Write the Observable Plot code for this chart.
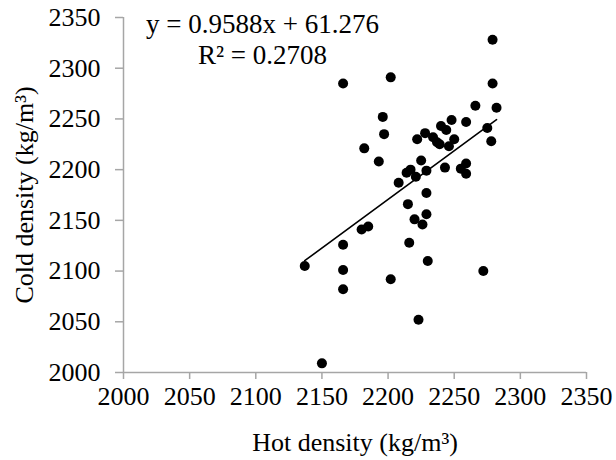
<!DOCTYPE html>
<html><head><meta charset="utf-8">
<script src="https://cdn.jsdelivr.net/npm/d3@7"></script>
<script src="https://cdn.jsdelivr.net/npm/@observablehq/plot@0.6"></script>
<style>html,body{margin:0;padding:0;background:#fff}</style>
</head><body><div id="chart"></div>
<script>
// Hot density (x) and cold density (y), kg/m³
const hotDensity = [2279, 2202, 2166, 2279, 2266, 2282, 2196, 2259, 2248, 2240,
  2244, 2275, 2228, 2197, 2222, 2234, 2237, 2239, 2250, 2246,
  2278, 2182, 2193, 2225, 2214, 2217, 2221, 2229, 2243, 2255,
  2259, 2259, 2208, 2229, 2215, 2220, 2226, 2229, 2216, 2230,
  2202, 2272, 2223, 2180, 2185, 2166, 2166, 2166, 2137, 2150];
const coldDensity = [2328, 2291, 2285, 2285, 2263, 2261, 2252, 2247, 2249, 2243,
  2239, 2241, 2236, 2235, 2230, 2232, 2227, 2225, 2230, 2223,
  2228, 2221, 2208, 2209, 2197, 2200, 2193, 2199, 2202, 2201,
  2206, 2196, 2187, 2177, 2166, 2151, 2146, 2156, 2128, 2110,
  2092, 2100, 2052, 2141, 2144, 2126, 2101, 2082, 2105, 2009];
const xTicks = [2000, 2050, 2100, 2150, 2200, 2250, 2300, 2350];
const yTicks = [2000, 2050, 2100, 2150, 2200, 2250, 2300, 2350];
const slope = 0.9588;
const intercept = 61.276;
const equationText = "y = 0.9588x + 61.276";
const r2Text = "R² = 0.2708";
const xTitle = "Hot density (kg/m³)";
const yTitle = "Cold density (kg/m³)";

const points = hotDensity.map((h, i) => ({hot: h, cold: coldDensity[i]}));
const xMin = d3.min(hotDensity), xMax = d3.max(hotDensity);
const trend = [xMin, xMax].map(x => ({hot: x, cold: slope * x + intercept}));

const font = "'Liberation Serif', 'Times New Roman', serif";
const axisColor = "#a6a6a6";

const chart = Plot.plot({
  width: 616,
  height: 460,
  marginLeft: 123,
  marginRight: 30,
  marginTop: 17,
  marginBottom: 88,
  style: {fontFamily: font, background: "#fff", color: "#000"},
  x: {domain: [2000, 2350], ticks: xTicks},
  y: {domain: [2000, 2350], ticks: yTicks},
  marks: [
    Plot.ruleY([2000], {stroke: axisColor, strokeWidth: 1.5}),
    Plot.ruleX([2000], {stroke: axisColor, strokeWidth: 1.5}),
    Plot.axisX({ticks: xTicks, tickFormat: d3.format("d"), tickSize: 7, tickPadding: 7,
      stroke: axisColor, strokeWidth: 1.5, fill: "#000", fontSize: 26, label: null}),
    Plot.axisY({ticks: yTicks, tickFormat: d3.format("d"), tickSize: 8, tickPadding: 15,
      stroke: axisColor, strokeWidth: 1.5, fill: "#000", fontSize: 26, label: null}),
    Plot.line(trend, {x: "hot", y: "cold", stroke: "#000", strokeWidth: 1.6}),
    Plot.dot(points, {x: "hot", y: "cold", r: 5, fill: "#000", stroke: "none"}),
    Plot.text([equationText], {frameAnchor: "top-left", dx: 139, dy: 15, lineAnchor: "bottom",
      textAnchor: "middle", fontSize: 27, fill: "#000"}),
    Plot.text([r2Text], {frameAnchor: "top-left", dx: 139, dy: 46.5, lineAnchor: "bottom",
      textAnchor: "middle", fontSize: 27, fill: "#000"}),
    Plot.text([xTitle], {frameAnchor: "bottom", dy: 78, lineAnchor: "bottom",
      textAnchor: "middle", fontSize: 26, fill: "#000"}),
    Plot.text([yTitle], {frameAnchor: "left", dx: -99, rotate: -90, lineAnchor: "middle",
      textAnchor: "middle", fontSize: 26, fill: "#000"})
  ]
});
document.getElementById("chart").appendChild(chart);
</script>
</body></html>
